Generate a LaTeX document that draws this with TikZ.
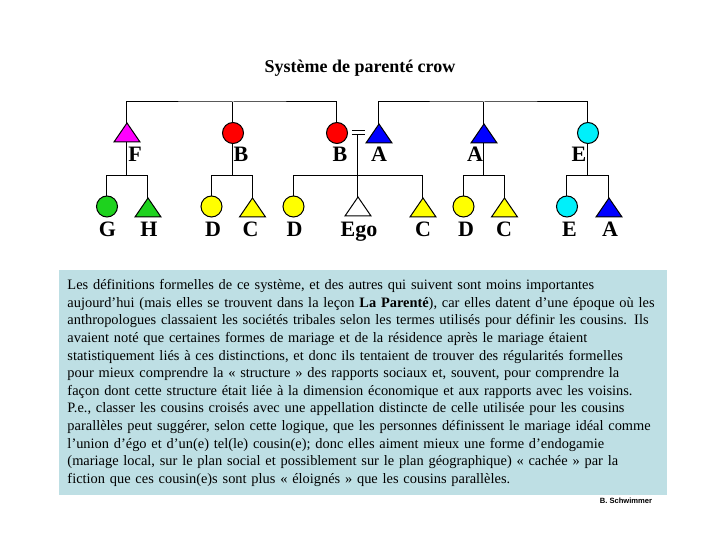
\documentclass[tikz,border=0pt]{standalone}
\usepackage{fontspec}
\setmainfont{Liberation Serif}
\newfontfamily\signfont{Liberation Sans}
\usepackage{xcolor}
\usepackage{tikz}
\usetikzlibrary{shapes.geometric}

\definecolor{kinmagenta}{RGB}{255,0,255}
\definecolor{kinred}{RGB}{255,0,0}
\definecolor{kinblue}{RGB}{0,0,255}
\definecolor{kincyan}{RGB}{0,240,250}
\definecolor{kinyellow}{RGB}{255,255,0}
\definecolor{kingreen}{RGB}{30,210,30}
\definecolor{boxblue}{RGB}{190,223,228}

\begin{document}
\begin{tikzpicture}[
    x=0.5pt, y=-0.5pt,
    line width=0.5pt,
    female/.style={circle, minimum size=10.5pt, inner sep=0pt, outer sep=0pt, draw=black},
    male/.style={isosceles triangle, isosceles triangle stretches, shape border rotate=90, minimum width=13pt, minimum height=9.5pt, inner sep=0pt, outer sep=0pt, draw=black, anchor=apex},
    kin/.style={font=\fontsize{11}{13}\selectfont\bfseries, anchor=base, inner sep=0pt},
    notebox/.style={rectangle, fill=boxblue, anchor=north west, minimum width=304pt, minimum height=112.5pt, inner xsep=4pt, inner ysep=0pt, text width=296pt, align=left, font=\fontsize{7.2}{8.8}\selectfont}
]
\useasboundingbox (0,0) rectangle (720,540);

% Title
\node[font=\fontsize{9}{11}\selectfont\bfseries, anchor=base] (title) at (360,73) {Système de parenté crow};

% Row 1: parents
\node[male, fill=kinmagenta] (f) at (127,123) {};
\node[female, fill=kinred] (b1) at (233,133) {};
\node[female, fill=kinred] (b2) at (337,133) {};
\node[male, fill=kinblue] (a1) at (379,124) {};
\node[male, fill=kinblue] (a2) at (484,124) {};
\node[female, fill=kincyan] (e1) at (588,133) {};

\node[kin] (lf) at (135,162) {F};
\node[kin] (lb1) at (241,162) {B};
\node[kin] (lb2) at (340,162) {B};
\node[kin] (la1) at (379,162) {A};
\node[kin] (la2) at (475,162) {A};
\node[kin] (le1) at (579,162) {E};

% Row 2: children
\node[female, fill=kingreen] (g) at (107,206.5) {};
\node[male, fill=kingreen] (h) at (148,198) {};
\node[female, fill=kinyellow] (d1) at (211.5,206.5) {};
\node[male, fill=kinyellow] (c1) at (252.5,198) {};
\node[female, fill=kinyellow] (d2) at (293.5,206.5) {};
\node[male, fill=white] (ego) at (358,197) {};
\node[male, fill=kinyellow] (c2) at (423,198) {};
\node[female, fill=kinyellow] (d3) at (463.5,206.5) {};
\node[male, fill=kinyellow] (c3) at (504.5,198) {};
\node[female, fill=kincyan] (e2) at (567,206.5) {};
\node[male, fill=kinblue] (a3) at (609,198) {};

\node[kin] (lg) at (107.5,237) {G};
\node[kin] (lh) at (149,237) {H};
\node[kin] (ld1) at (213,237) {D};
\node[kin] (lc1) at (250.5,237) {C};
\node[kin] (ld2) at (294.5,237) {D};
\node[kin] (lego) at (359,237) {Ego};
\node[kin] (lc2) at (423,237) {C};
\node[kin] (ld3) at (466,237) {D};
\node[kin] (lc3) at (504,237) {C};
\node[kin] (le2) at (569.5,237) {E};
\node[kin] (la3) at (610,237) {A};

% Sibling lines
\coordinate (sibl) at (233,102);
\coordinate (sibr) at (484,102);
\draw (f.apex) |- (sibl) -| (b2.north);
\draw (b1.north) -- (sibl);
\draw (a1.apex) |- (sibr) -| (e1.north);
\draw (a2.apex) -- (sibr);

% Marriage
\coordinate (eq) at (358,134.5);
\draw (352,131) -- (365,131);
\draw (352,134.5) -- (365,134.5);

% Descent lines
\coordinate (kidsf) at (127,176);
\coordinate (kidsb) at (233,176);
\coordinate (kidsba) at (358,176);
\coordinate (kidsa) at (484,176);
\coordinate (kidse) at (588,176);
\draw (f.lower side) -- (kidsf) -| (g.north);
\draw (kidsf) -| (h.apex);
\draw (b1.south) -- (kidsb) -| (d1.north);
\draw (kidsb) -| (c1.apex);
\draw (eq) -- (ego.apex);
\draw (kidsba) -| (d2.north);
\draw (kidsba) -| (c2.apex);
\draw (a2.lower side) -- (kidsa) -| (d3.north);
\draw (kidsa) -| (c3.apex);
\draw (e1.south) -- (kidse) -| (e2.north);
\draw (kidse) -| (a3.apex);

% Notes
\node[notebox] (notes) at (59,270) {Les définitions formelles de ce système, et des autres qui suivent sont moins importantes\\
aujourd’hui (mais elles se trouvent dans la leçon \textbf{La Parenté}), car elles datent d’une époque où les\\
anthropologues classaient les sociétés tribales selon les termes utilisés pour définir les cousins. Ils\\
avaient noté que certaines formes de mariage et de la résidence après le mariage étaient\\
statistiquement liés à ces distinctions, et donc ils tentaient de trouver des régularités formelles\\
pour mieux comprendre la « structure » des rapports sociaux et, souvent, pour comprendre la\\
façon dont cette structure était liée à la dimension économique et aux rapports avec les voisins.\\
P.e., classer les cousins croisés avec une appellation distincte de celle utilisée pour les cousins\\
parallèles peut suggérer, selon cette logique, que les personnes définissent le mariage idéal comme\\
l’union d’égo et d’un(e) tel(le) cousin(e); donc elles aiment mieux une forme d’endogamie\\
(mariage local, sur le plan social et possiblement sur le plan géographique) « cachée » par la\\
fiction que ces cousin(e)s sont plus « éloignés » que les cousins parallèles.};
\node[font=\signfont\fontsize{3.8}{4.5}\selectfont\bfseries, anchor=base] (sign) at (626,504) {B. Schwimmer};
\end{tikzpicture}
\end{document}
